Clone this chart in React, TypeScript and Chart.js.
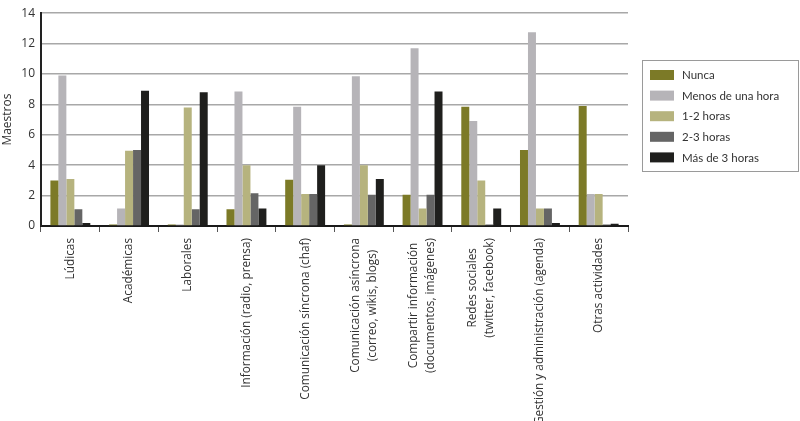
import React, { useEffect, useRef } from "react";
import { Chart, registerables } from "chart.js";

Chart.register(...registerables);

const categories = [
  ["Lúdicas"],
  ["Académicas"],
  ["Laborales"],
  ["Información (radio, prensa)"],
  ["Comunicación síncrona (chaf)"],
  ["Comunicación asíncrona", "(correo, wikis, blogs)"],
  ["Compartir información", "(documentos, imágenes)"],
  ["Redes sociales", "(twitter, facebook)"],
  ["Gestión y administración (agenda)"],
  ["Otras actividades"],
];

const seriesNames = ["Nunca", "Menos de una hora", "1-2 horas", "2-3 horas", "Más de 3 horas"];
const seriesColors = ["#7c7a27", "#b6b4b8", "#b6b37e", "#656565", "#1f1f1d"];

const nunca = [3.0, 0.1, 0.1, 1.1, 3.05, 0.1, 2.05, 7.85, 5.0, 7.9];
const menosDeUnaHora = [9.9, 1.15, 0.1, 8.85, 7.85, 9.85, 11.7, 6.9, 12.75, 2.1];
const unoDosHoras = [3.1, 4.95, 7.8, 4.0, 2.1, 4.0, 1.15, 3.0, 1.15, 2.1];
const dosTresHoras = [1.1, 5.0, 1.1, 2.15, 2.1, 2.05, 2.05, 0.1, 1.15, 0.1];
const masDeTresHoras = [0.2, 8.9, 8.8, 1.15, 4.0, 3.1, 8.85, 1.15, 0.2, 0.15];

const yTicks = [0, 2, 4, 6, 8, 10, 12, 14];

const FONT = "'Open Sans', sans-serif";
const LEGEND_FONT = "Lato, 'Open Sans', sans-serif";

// legend in a framed box on the right, drawn on the canvas
const boxLegend = {
  id: "boxLegend",
  afterDraw(chart: Chart) {
    const ctx = chart.ctx;
    ctx.save();
    ctx.strokeStyle = "#9a9a9a";
    ctx.lineWidth = 1;
    ctx.strokeRect(642.5, 60.5, 156, 111);
    ctx.font = `11.5px ${LEGEND_FONT}`;
    ctx.textBaseline = "middle";
    chart.data.datasets.forEach((ds, i) => {
      const y = 70 + i * 20.6;
      ctx.fillStyle = ds.backgroundColor as string;
      ctx.fillRect(650, y, 24, 10);
      ctx.fillStyle = "#333";
      ctx.fillText(ds.label as string, 682, y + 5.5);
    });
    ctx.restore();
  },
};

// vertical category labels, lines centred on each other
const xLabels = {
  id: "xLabels",
  afterDraw(chart: Chart) {
    const ctx = chart.ctx;
    const scale = chart.scales.x;
    const top = scale.top + 12;
    ctx.save();
    ctx.font = `11.8px ${FONT}`;
    ctx.fillStyle = "#333";
    ctx.textAlign = "center";
    ctx.textBaseline = "middle";
    (chart.data.labels as string[][]).forEach((lines, i) => {
      const x = scale.getPixelForValue(i);
      const maxW = Math.max(...lines.map((l) => ctx.measureText(l).width));
      ctx.save();
      ctx.translate(x, top);
      ctx.rotate(-Math.PI / 2);
      lines.forEach((line, j) => {
        ctx.fillText(line, -maxW / 2, (j - (lines.length - 1) / 2) * 17);
      });
      ctx.restore();
    });
    ctx.restore();
  },
};

const App = () => {
  const chartRef = useRef<HTMLCanvasElement | null>(null);

  useEffect(() => {
    document.body.style.margin = "0";
    const ctx = chartRef.current?.getContext("2d");
    if (!ctx) return;

    const values = [nunca, menosDeUnaHora, unoDosHoras, dosTresHoras, masDeTresHoras];

    const chart = new Chart(ctx, {
      type: "bar",
      data: {
        labels: categories,
        datasets: values.map((data, i) => ({
          label: seriesNames[i],
          data,
          backgroundColor: seriesColors[i],
          borderWidth: 0,
          categoryPercentage: 0.68,
          barPercentage: 1,
        })),
      },
      plugins: [boxLegend, xLabels],
      options: {
        animation: false,
        responsive: true,
        maintainAspectRatio: false,
        layout: { padding: { top: 6, right: 172, left: 0, bottom: 0 } },
        plugins: {
          legend: { display: false },
          tooltip: { enabled: false },
        },
        scales: {
          x: {
            afterFit: (scale) => {
              scale.height = 195;
            },
            grid: {
              display: true,
              offset: true,
              drawOnChartArea: false,
              drawTicks: true,
              tickLength: 6,
              color: "#555",
              lineWidth: 1,
            },
            border: { display: true, color: "#1a1a1a", width: 2 },
            ticks: { display: false, autoSkip: false },
          },
          y: {
            min: 0,
            max: 14,
            afterFit: (scale) => {
              scale.width = 41;
            },
            afterBuildTicks: (scale) => {
              scale.ticks = yTicks.map((v) => ({ value: v }));
            },
            grid: {
              color: "#a8a8a8",
              lineWidth: 1.5,
              drawTicks: false,
            },
            border: { display: true, color: "#222", width: 2 },
            ticks: {
              padding: 6,
              color: "#333",
              font: { family: FONT, size: 12 },
            },
            title: {
              display: true,
              text: "Maestros",
              color: "#333",
              padding: { top: 0, bottom: 2 },
              font: { family: FONT, size: 12 },
            },
          },
        },
      },
    });

    return () => {
      chart.destroy();
    };
  }, []);

  return (
    <div style={{ position: "relative", width: 800, height: 421, background: "#fff" }}>
      <canvas ref={chartRef} />
    </div>
  );
};

export default App;
